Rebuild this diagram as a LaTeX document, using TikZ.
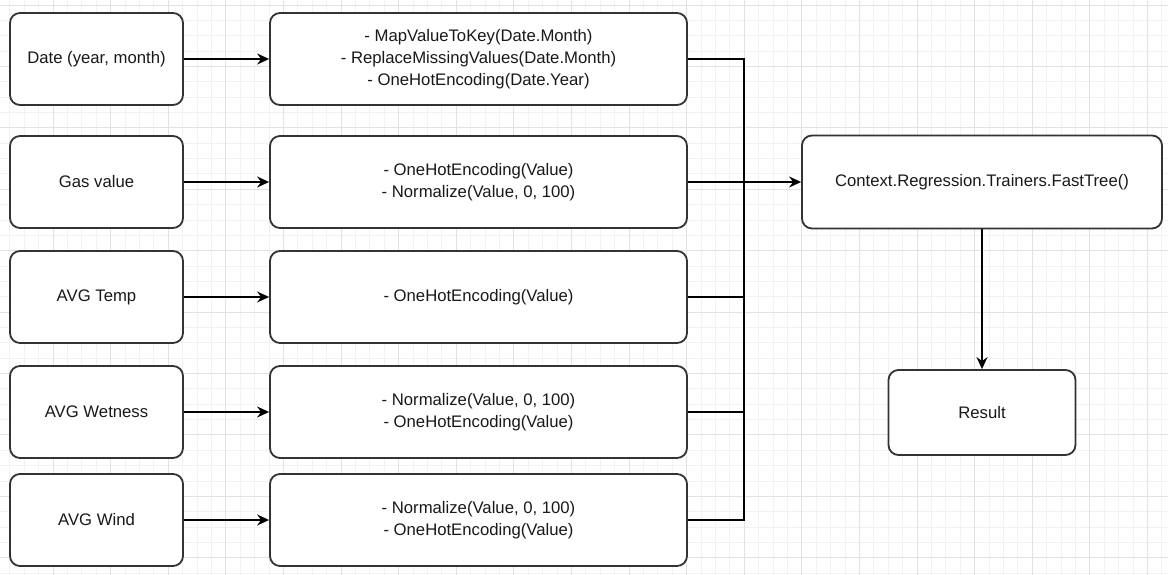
\documentclass[tikz,border=0pt]{standalone}
\usepackage{fontspec}
\setmainfont{Liberation Sans}
\usetikzlibrary{arrows.meta}
\definecolor{boxline}{HTML}{333333}
\definecolor{gridminor}{HTML}{F2F2F2}
\definecolor{gridmajor}{HTML}{E2E2E2}
\tikzset{
  box/.style={draw=boxline, line width=1.8pt, rounded corners=10pt, fill=white, inner sep=0pt, align=center, text=black!90},
  conn/.style={draw=black, line width=1.7pt},
  arr/.style={conn, -{Stealth[length=12pt, width=11pt, inset=4pt]}},
}
\begin{document}
\begin{tikzpicture}[x=1pt, y=-1pt, font=\fontsize{16.7}{22}\selectfont]
\fill[white] (0,0) rectangle (1168,575);
\useasboundingbox (0,0) rectangle (1168,575);
% grid
\foreach \i in {0,...,80} \draw[gridminor, line width=0.9pt] ({9.8+14.4*\i},0) -- ({9.8+14.4*\i},575);
\foreach \i in {0,...,37} \draw[gridminor, line width=0.9pt] (0,{5.1+15.35*\i}) -- (1168,{5.1+15.35*\i});
\foreach \i in {0,...,19} \draw[gridmajor, line width=1pt] ({53+57.6*\i},0) -- ({53+57.6*\i},575);
\foreach \i in {0,...,9} \draw[gridmajor, line width=1pt] (0,{5.1+61.4*\i}) -- (1168,{5.1+61.4*\i});

% left column
\node[box, minimum width=173pt, minimum height=92pt] (l1) at (96.5,59) {Date (year, month)};
\node[box, minimum width=173pt, minimum height=92pt] (l2) at (96.5,182) {Gas value};
\node[box, minimum width=173pt, minimum height=92pt] (l3) at (96.5,297) {AVG Temp};
\node[box, minimum width=173pt, minimum height=92pt] (l4) at (96.5,412) {AVG Wetness};
\node[box, minimum width=173pt, minimum height=92pt] (l5) at (96.5,520) {AVG Wind};

% middle column
\node[box, minimum width=417pt, minimum height=92pt] (m1) at (478.5,59) {- MapValueToKey(Date.Month)\\- ReplaceMissingValues(Date.Month)\\- OneHotEncoding(Date.Year)};
\node[box, minimum width=417pt, minimum height=92pt] (m2) at (478.5,182) {- OneHotEncoding(Value)\\- Normalize(Value, 0, 100)};
\node[box, minimum width=417pt, minimum height=92pt] (m3) at (478.5,297) {- OneHotEncoding(Value)};
\node[box, minimum width=417pt, minimum height=92pt] (m4) at (478.5,412) {- Normalize(Value, 0, 100)\\- OneHotEncoding(Value)};
\node[box, minimum width=417pt, minimum height=92pt] (m5) at (478.5,520) {- Normalize(Value, 0, 100)\\- OneHotEncoding(Value)};

% right
\node[box, minimum width=360pt, minimum height=93pt] (ft) at (982,182) {Context.Regression.Trainers.FastTree()};
\node[box, minimum width=187pt, minimum height=85pt] (res) at (982,412.5) {Result};

\coordinate (j) at (744,182);

% connectors
\foreach \k in {1,...,5} \draw[arr] (l\k.east) -- (m\k.west);
\draw[conn] (m1.east) -| (j);
\draw[conn] (m3.east) -| (j);
\draw[conn] (m4.east) -| (j);
\draw[conn] (m5.east) -| (j);
\draw[arr] (m2.east) -- (ft.west);
\draw[arr] (ft.south) -- (res.north);
\end{tikzpicture}
\end{document}
